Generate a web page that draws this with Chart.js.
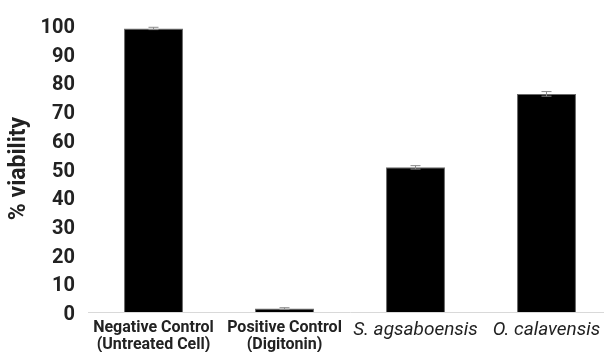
<!DOCTYPE html>
<html>
<head>
<meta charset="utf-8">
<script src="https://cdn.jsdelivr.net/npm/chart.js@4/dist/chart.umd.min.js"></script>
<style>
    html, body { margin: 0; padding: 0; background: #fff; overflow: hidden; }
    #wrap { position: relative; width: 612px; height: 352px; }
</style>
</head>
<body>
<div id="wrap"><canvas id="chart"></canvas></div>
<script>
// Viability data
const categories = [
    ['Negative Control', '(Untreated Cell)'],
    ['Positive Control', '(Digitonin)'],
    'S. agsaboensis',
    'O. calavensis'
];
const italicLabels = [false, false, true, true];
const viability = [98.8, 1.2, 50.4, 76.0];
const viabilityErr = [0.4, 0.3, 0.6, 0.8];
const yTicks = [0, 10, 20, 30, 40, 50, 60, 70, 80, 90, 100];

// Simple error bar plugin
const errorBars = {
    id: 'errorBars',
    afterDatasetsDraw(chart) {
        const ctx = chart.ctx;
        const meta = chart.getDatasetMeta(0);
        const y = chart.scales.y;
        ctx.save();
        ctx.strokeStyle = '#8a8a8a';
        ctx.lineWidth = 1;
        meta.data.forEach((bar, i) => {
            const top = y.getPixelForValue(viability[i] + viabilityErr[i]);
            const bottom = y.getPixelForValue(viability[i] - viabilityErr[i]);
            ctx.beginPath();
            ctx.moveTo(bar.x, top);
            ctx.lineTo(bar.x, bottom);
            ctx.moveTo(bar.x - 5, top);
            ctx.lineTo(bar.x + 5, top);
            ctx.moveTo(bar.x - 5, bottom);
            ctx.lineTo(bar.x + 5, bottom);
            ctx.stroke();
        });
        ctx.restore();
    }
};

new Chart(document.getElementById('chart'), {
    type: 'bar',
    data: {
        labels: categories,
        datasets: [{
            data: viability,
            backgroundColor: '#000000',
            borderColor: '#6a6a6a',
            borderWidth: 1,
            barPercentage: 0.9,
            categoryPercentage: 0.5
        }]
    },
    options: {
        responsive: true,
        maintainAspectRatio: false,
        animation: false,
        layout: { padding: { top: 11, bottom: 0, left: 5, right: 0 } },
        plugins: {
            legend: { display: false },
            tooltip: { enabled: false }
        },
        scales: {
            y: {
                min: 0,
                max: 100,
                afterBuildTicks: (axis) => {
                    axis.ticks = yTicks.map(v => ({ value: v }));
                },
                afterFit: (axis) => { axis.width = 83; },
                grid: { display: false, drawTicks: false },
                border: { display: false },
                ticks: {
                    color: '#222',
                    padding: 13,
                    labelOffset: 3,
                    font: { family: 'Roboto', size: 20, weight: 'bold' }
                },
                title: {
                    display: true,
                    text: '% viability',
                    color: '#222',
                    padding: { top: 0, bottom: 0 },
                    font: { family: 'Roboto', size: 23, weight: 'bold' }
                }
            },
            x: {
                afterFit: (axis) => { axis.height = 40; },
                grid: { display: false, drawTicks: false },
                border: { display: true, color: '#d9d9d9', width: 1 },
                ticks: {
                    color: '#222',
                    padding: 8,
                    maxRotation: 0,
                    autoSkip: false,
                    font: (ctx) => ({
                        family: 'Roboto',
                        size: italicLabels[ctx.index] ? 19 : 16,
                        weight: italicLabels[ctx.index] ? 'normal' : 'bold',
                        style: italicLabels[ctx.index] ? 'italic' : 'normal',
                        lineHeight: 1.05
                    })
                }
            }
        }
    },
    plugins: [errorBars]
});
</script>
</body>
</html>
